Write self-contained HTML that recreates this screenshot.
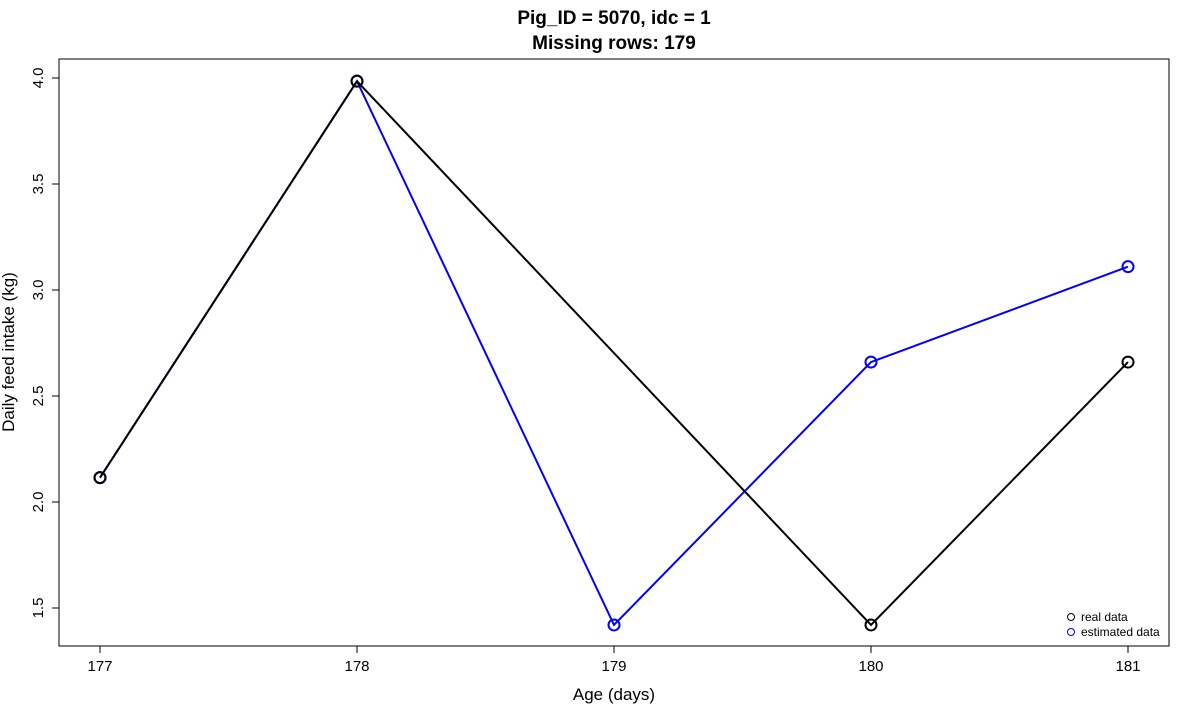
<!DOCTYPE html>
<html><head><meta charset="utf-8"><style>
html,body{margin:0;padding:0;background:#fff;}
svg{display:block;font-family:"Liberation Sans",Arial,sans-serif;}
</style></head><body>
<svg id="chart" width="1200" height="720">
<text x="614" y="24" text-anchor="middle" font-size="19" font-weight="bold">Pig_ID = 5070, idc = 1</text>
<text x="614" y="49" text-anchor="middle" font-size="19" font-weight="bold">Missing rows: 179</text>
<rect x="59" y="59" width="1110" height="587" fill="none" stroke="#000" stroke-width="1"/>
<text x="614" y="700" text-anchor="middle" font-size="17">Age (days)</text>
<text transform="translate(14,352) rotate(-90)" text-anchor="middle" font-size="17">Daily feed intake (kg)</text>
<g id="axes"></g><g id="series"></g>
<g>
<circle cx="1071" cy="617" r="3.5" fill="none" stroke="#000"/>
<text x="1081" y="621" font-size="12">real data</text>
<circle cx="1071" cy="632" r="3.5" fill="none" stroke="#00f"/>
<text x="1081" y="636" font-size="12">estimated data</text>
</g>
</svg>
<script>
const days=[177,178,179,180,181];
const realValues=[2.115,3.985,null,1.42,2.66];
const estimatedValues=[2.115,3.985,1.42,2.66,3.11];
const yTicks=[1.5,2.0,2.5,3.0,3.5,4.0];
const yTickLabels=["1.5","2.0","2.5","3.0","3.5","4.0"];
const NS="http://www.w3.org/2000/svg";
function xs(v){return 100+(v-177)*257;}
function ys(v){return 608-(v-1.5)*212;}
function mk(t,a,p){const e=document.createElementNS(NS,t);for(const k in a)e.setAttribute(k,a[k]);p.appendChild(e);return e;}
const ax=document.getElementById('axes');
days.forEach(d=>{
 const l=mk('line',{x1:xs(d),x2:xs(d),y1:646,y2:653,stroke:'#000'},ax);
 
 
 const t=mk('text',{x:xs(d),y:671,'text-anchor':'middle','font-size':15},ax);t.textContent=d;
 
 
});
yTicks.forEach((v,i)=>{
 const l=mk('line',{x1:52,x2:59,y1:ys(v),y2:ys(v),stroke:'#000'},ax);
 
 
 const t=mk('text',{transform:`translate(43,${ys(v)}) rotate(-90)`,'text-anchor':'middle','font-size':15},ax);t.textContent=yTickLabels[i];
 
 
});
const sg=document.getElementById('series');
function draw(vals,col,name){
 const pts=[];days.forEach((d,i)=>{if(vals[i]!=null)pts.push([xs(d),ys(vals[i])]);});
 const pl=mk('polyline',{points:pts.map(p=>p.join(',')).join(' '),fill:'none',stroke:col,'stroke-width':2},sg);
 
 
 pts.forEach(p=>{const c=mk('circle',{cx:p[0],cy:p[1],r:5.5,fill:'none',stroke:col,'stroke-width':2},sg);
 
 });
}
draw(estimatedValues,'#0000ff','estimated');
draw(realValues,'#000000','real');
</script>
</body></html>
